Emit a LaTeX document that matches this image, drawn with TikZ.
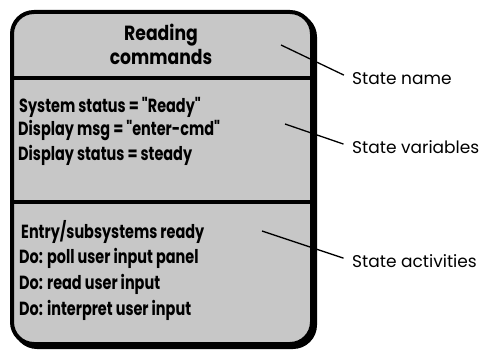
\documentclass[tikz,border=0pt]{standalone}
\usepackage{fontspec}
\setmainfont{Poppins}
\newfontfamily\boxfont{Poppins}[FakeStretch=0.76]
\newfontfamily\titlefont{Poppins}[FakeStretch=0.84]
\begin{document}
\begin{tikzpicture}[x=1pt,y=-1pt,
  boxtext/.style={anchor=west,inner sep=0pt,font=\boxfont\fontsize{19}{20}\selectfont\bfseries},
  titletext/.style={anchor=center,inner sep=0pt,align=center,font=\titlefont\fontsize{20.5}{24}\selectfont\bfseries},
  labeltext/.style={anchor=west,inner sep=0pt,font=\fontsize{17}{18}\selectfont},
  leader/.style={line width=1.3pt,shorten >=9pt}]
\useasboundingbox (0,0) rectangle (486,352);
% shadow and box
\fill[black,rounded corners=24pt] (13,13) rectangle (317,349);
\draw[line width=4pt,fill=black!22,rounded corners=22pt] (12,12) rectangle (312,344);
\draw[line width=3.5pt] (12,78) -- (312,78);
\draw[line width=3.5pt] (12,202) -- (312,202);
% title
\node[titletext] (title) at (161,44) {Reading\\commands};
% variables
\node[boxtext] (v1) at (19,107) {System status = "Ready"};
\node[boxtext] (v2) at (18,131) {Display msg = "enter-cmd"};
\node[boxtext] (v3) at (18,155) {Display status = steady};
% activities
\node[boxtext] (a1) at (21,232) {Entry/subsystems ready};
\node[boxtext] (a2) at (19,258) {Do: poll user input panel};
\node[boxtext] (a3) at (19,284) {Do: read user input};
\node[boxtext] (a4) at (19,310) {Do: interpret user input};
% labels
\node[labeltext] (lname) at (352,79) {State name};
\node[labeltext] (lvar) at (352,147) {State variables};
\node[labeltext] (lact) at (352,261) {State activities};
\coordinate (pname) at (281,45);
\coordinate (pvar) at (285,124);
\coordinate (pact) at (262,231);
\draw[leader] (pname) -- (lname.west);
\draw[leader] (pvar) -- (lvar.west);
\draw[leader] (pact) -- (lact.west);
\end{tikzpicture}
\end{document}
